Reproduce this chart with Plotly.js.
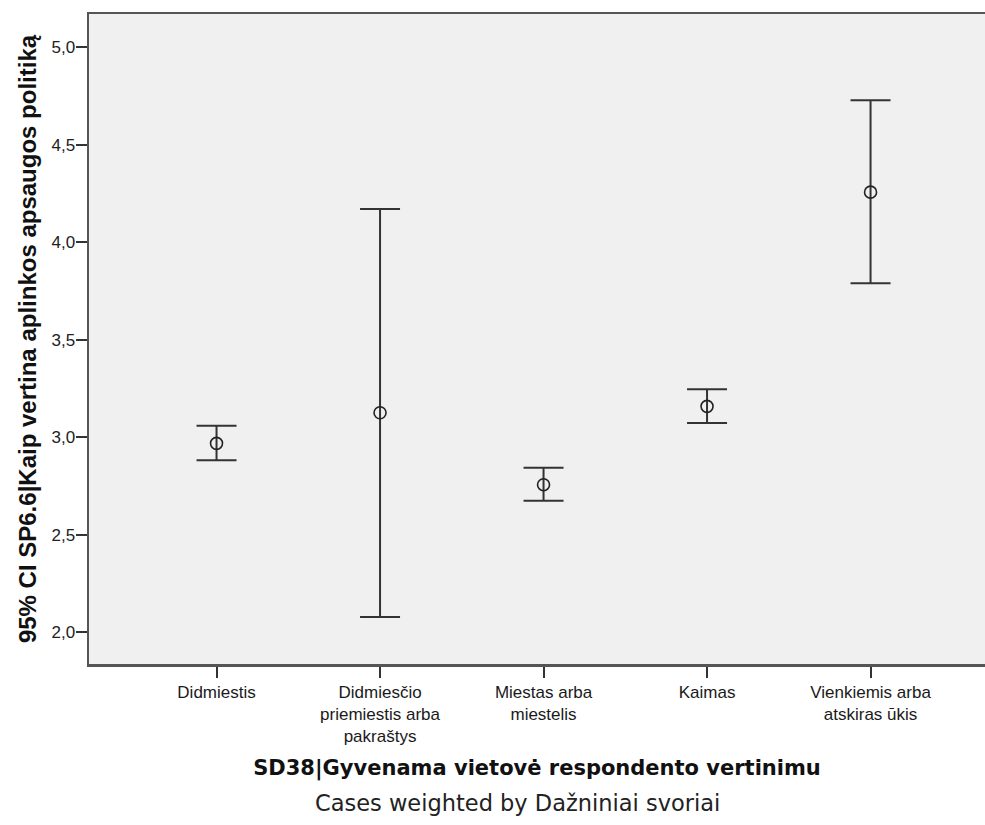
<!DOCTYPE html>
<html>
<head>
<meta charset="utf-8">
<script src="https://cdn.plot.ly/plotly-3.0.1.min.js"></script>
<style>html,body{margin:0;padding:0;background:#fff;}#chart{width:985px;height:825px;}</style>
</head>
<body>
<div id="chart"></div>
<script>
// Data
const categories = [
  "Didmiestis",
  "Didmiesčio<br>priemiestis arba<br>pakraštys",
  "Miestas arba<br>miestelis",
  "Kaimas",
  "Vienkiemis arba<br>atskiras ūkis"
];
const means = [2.968, 3.125, 2.756, 3.158, 4.257];
const lower = [2.882, 2.077, 2.673, 3.073, 3.790];
const upper = [3.058, 4.171, 2.843, 3.246, 4.728];
const yTickVals = [2.0, 2.5, 3.0, 3.5, 4.0, 4.5, 5.0];
const yTickText = ["2,0", "2,5", "3,0", "3,5", "4,0", "4,5", "5,0"];

const xIdx = categories.map((c, i) => i);
const plus = upper.map((u, i) => u - means[i]);
const minus = lower.map((l, i) => means[i] - l);

const trace = {
  type: "scatter",
  mode: "markers",
  x: xIdx,
  y: means,
  marker: {symbol: "circle-open", size: 12, color: "#222", line: {width: 1.6, color: "#222"}},
  error_y: {type: "data", symmetric: false, array: plus, arrayminus: minus,
            color: "#333", thickness: 2, width: 20},
  hoverinfo: "skip",
  showlegend: false
};

const font = "'Liberation Sans', Arial, sans-serif";
const layout = {
  width: 985, height: 825,
  margin: {l: 89, r: 0, t: 14, b: 161},
  paper_bgcolor: "#ffffff",
  plot_bgcolor: "#f0f0f0",
  showlegend: false,
  xaxis: {
    range: [-0.78, 4.70],
    tickmode: "array",
    tickvals: xIdx,
    ticktext: categories,
    ticks: "outside", ticklen: 11, tickwidth: 2, tickcolor: "#333",
    showgrid: false, zeroline: false,
    showline: true, linecolor: "#555", linewidth: 2.5, mirror: true,
    tickfont: {family: font, size: 17, color: "#1a1a1a"},
    title: {text: "SD38|Gyvenama vietovė respondento vertinimu",
            font: {family: "'DejaVu Sans', sans-serif", size: 21, color: "#111", weight: "bold"},
            standoff: 15}
  },
  yaxis: {
    range: [1.836, 5.171],
    tickmode: "array",
    tickvals: yTickVals,
    ticktext: yTickText,
    ticks: "outside", ticklen: 11, tickwidth: 2, tickcolor: "#333",
    ticklabelstandoff: -3,
    showgrid: false, zeroline: false,
    showline: true, linecolor: "#555", linewidth: 2.5,
    tickfont: {family: font, size: 17, color: "#222"},
    title: {text: "95% CI SP6.6|Kaip vertina aplinkos apsaugos politiką",
            font: {family: font, size: 24, color: "#111", weight: "bold"},
            standoff: 8}
  },
  annotations: [{
    text: "Cases weighted by Dažniniai svoriai",
    xref: "paper", yref: "paper",
    x: 0.478, y: -0.214,
    xanchor: "center", yanchor: "middle",
    showarrow: false,
    font: {family: "'DejaVu Sans', sans-serif", size: 22.5, color: "#222"}
  }]
};

Plotly.newPlot("chart", [trace], layout, {staticPlot: true, displayModeBar: false});
</script>
</body>
</html>
